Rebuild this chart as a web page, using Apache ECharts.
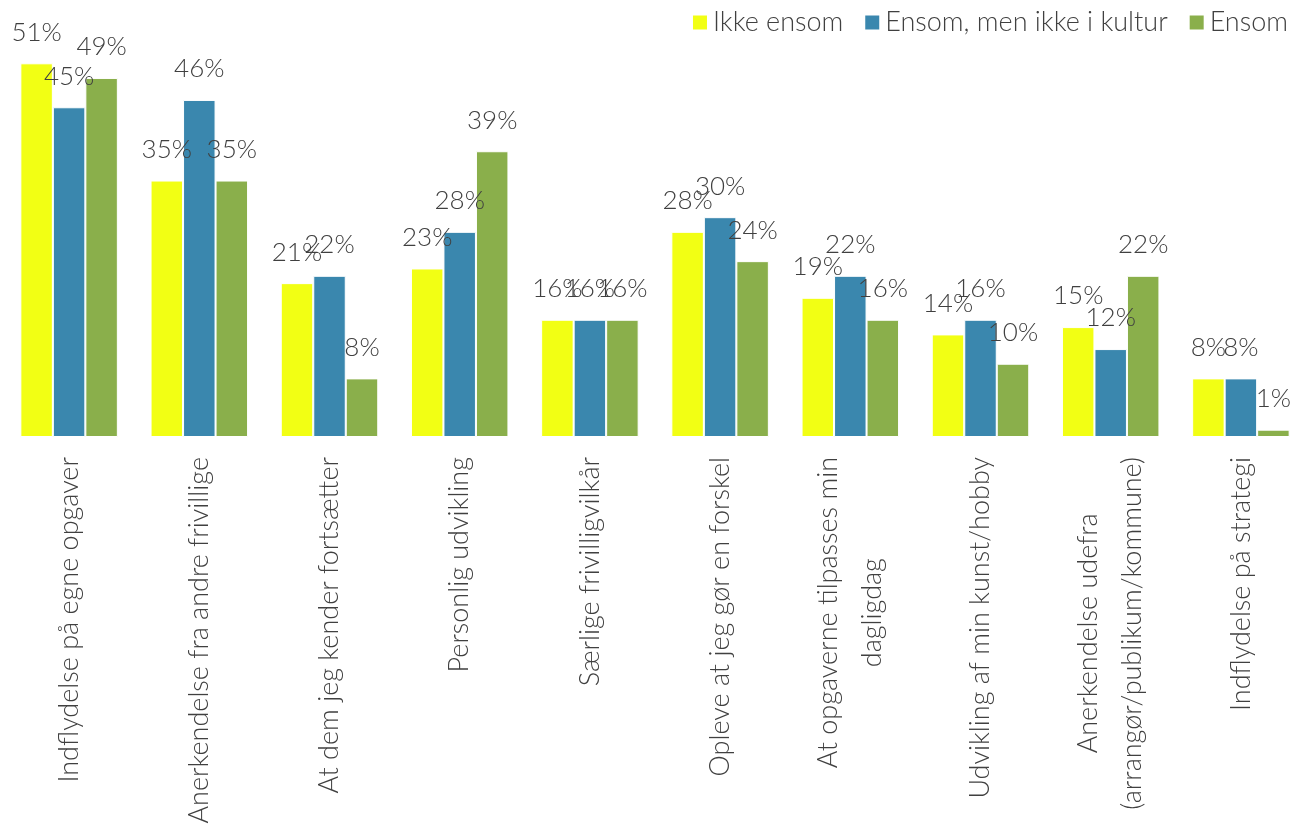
<!DOCTYPE html>
<html>
<head>
<meta charset="utf-8">
<script src="https://cdn.jsdelivr.net/npm/echarts@6/dist/echarts.min.js"></script>
<style>
  html, body { margin: 0; padding: 0; background: #fff; }
  #chart { width: 1295px; height: 827px; }
</style>
</head>
<body>
<div id="chart"></div>
<script>
  // categories (two-line ones split with \n)
  var categories = [
    'Indflydelse på egne opgaver',
    'Anerkendelse fra andre frivillige',
    'At dem jeg kender fortsætter',
    'Personlig udvikling',
    'Særlige frivilligvilkår',
    'Opleve at jeg gør en forskel',
    'At opgaverne tilpasses min\ndagligdag',
    'Udvikling af min kunst/hobby',
    'Anerkendelse udefra\n(arrangør/publikum/kommune)',
    'Indflydelse på strategi'
  ];
  var seriesNames = ['Ikke ensom', 'Ensom, men ikke i kultur', 'Ensom'];
  var ikkeEnsom = [51, 35, 21, 23, 16, 28, 19, 14, 15, 8];
  var ensomIkkeKultur = [45, 46, 22, 28, 16, 30, 22, 16, 12, 8];
  var ensom = [49, 35, 8, 39, 16, 24, 16, 10, 22, 1];
  var colors = ['#f2ff14', '#3a87ae', '#8aaf4b'];

  var font = 'Lato, "Open Sans", sans-serif';
  var textColor = '#404040';

  function makeSeries(name, data, color) {
    return {
      name: name,
      type: 'bar',
      data: data,
      barGap: '0%',
      barWidth: 32.5,
      itemStyle: { color: color, borderColor: '#fff', borderWidth: 1 },
      label: {
        show: true,
        position: 'top',
        distance: 18,
        formatter: '{c}%',
        color: textColor,
        fontFamily: font,
        fontWeight: 300,
        fontSize: 26
      }
    };
  }

  var chart = echarts.init(document.getElementById('chart'));
  chart.setOption({
    animation: false,
    textStyle: { fontFamily: font },
    legend: {
      data: seriesNames,
      right: 2,
      top: 4,
      itemWidth: 16,
      itemHeight: 16,
      itemGap: 20,
      icon: 'rect',
      textStyle: { color: textColor, fontSize: 27, fontWeight: 300, fontFamily: font }
    },
    grid: { left: 4, right: -11, top: 34, bottom: 390, containLabel: false, outerBoundsMode: 'none' },
    xAxis: {
      type: 'category',
      data: categories,
      axisLine: { show: false },
      axisTick: { show: false },
      axisLabel: {
        interval: 0,
        rotate: 90,
        margin: 20,
        color: textColor,
        fontSize: 27,
        fontWeight: 300,
        fontFamily: font,
        formatter: function (v) {
          return v.split('\n').map(function (s) { return '{c|' + s + '}'; }).join('\n');
        },
        rich: {
          c: { align: 'center', fontSize: 27, fontWeight: 300, fontFamily: font, color: textColor, lineHeight: 44 }
        }
      }
    },
    yAxis: {
      type: 'value',
      min: 0,
      max: 55,
      show: false,
      splitLine: { show: false }
    },
    series: [
      makeSeries(seriesNames[0], ikkeEnsom, colors[0]),
      makeSeries(seriesNames[1], ensomIkkeKultur, colors[1]),
      makeSeries(seriesNames[2], ensom, colors[2])
    ]
  });
</script>
</body>
</html>
